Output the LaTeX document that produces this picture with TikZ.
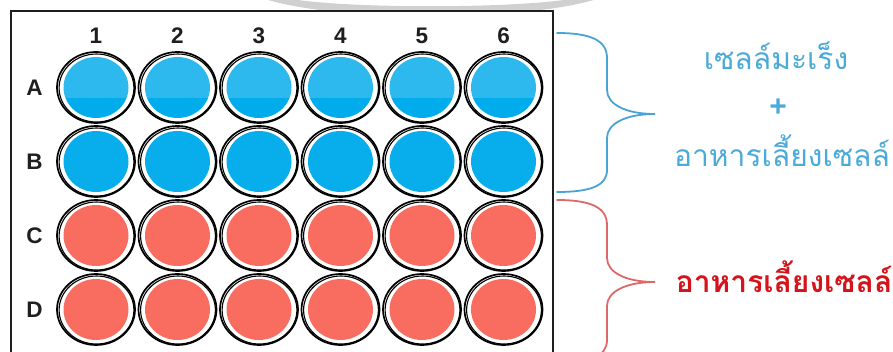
\documentclass[tikz,border=0pt]{standalone}
\usepackage{fontspec}
\setmainfont{Liberation Sans}
\newfontfamily\thaifont[Script=Thai]{Loma}
\definecolor{plateline}{RGB}{30,30,30}
\definecolor{bluetop}{RGB}{45,184,238}
\definecolor{bluelow}{RGB}{0,172,236}
\definecolor{bluewell}{RGB}{8,174,236}
\definecolor{redwell}{RGB}{249,108,96}
\definecolor{bracecyan}{RGB}{72,164,212}
\definecolor{bracered}{RGB}{222,104,104}
\definecolor{thaiblue}{RGB}{74,170,216}
\definecolor{thaired}{RGB}{212,20,26}
\definecolor{rimgray}{RGB}{208,208,208}
\tikzset{
  rimouter/.style={draw=black,line width=1.7pt},
  riminner/.style={draw=black,line width=1.1pt},
  idx/.style={font=\bfseries\fontsize{22.5}{22.5}\selectfont,text=black!88,inner sep=0pt},
  brace/.style={line width=1.8pt,line cap=round},
  thaitext/.style={font=\thaifont\fontsize{30}{36}\selectfont,inner sep=0pt,anchor=base}
}
\begin{document}
\begin{tikzpicture}[x=1pt,y=-1pt]
\useasboundingbox (0,0) rectangle (893,352);
\fill[white] (0,0) rectangle (893,352);
% grey rim of the lid, seen behind the plate
\fill[rimgray] (262,-2) .. controls (330,22) and (530,22) .. (600,-2)
  -- (576,-2) .. controls (520,9) and (340,9) .. (286,-2) -- cycle;
% plate body
\draw[plateline,line width=1.8pt,fill=white] (11,11) rectangle (553,372);
% column and row labels
\foreach \c in {1,...,6}{
  \node[idx] (col\c) at ({96+81.5*(\c-1)},35.5) {\c};
}
\foreach \r [count=\i from 0] in {A,B,C,D}{
  \node[idx] (row\r) at (34.5,{87.5+74*\i}) {\r};
}
% wells
\foreach \c in {1,...,6}{
  \foreach \r [count=\i from 0] in {A,B,C,D}{
    \coordinate (w\r\c) at ({96+81.5*(\c-1)},{87.5+74*\i});
    \draw[rimouter] (w\r\c) ellipse [x radius=39,y radius=35.5];
    \draw[riminner] ([shift={(0.5,0.5)}]w\r\c) ellipse [x radius=37.4,y radius=34];
  }
  % row A: two-tone liquid
  \begin{scope}
    \clip (wA\c) ellipse [x radius=32.5,y radius=30.5];
    \fill[bluetop] ([shift={(-40,-40)}]wA\c) rectangle ([shift={(40,10.5)}]wA\c);
    \fill[bluelow] ([shift={(-40,10.5)}]wA\c) rectangle ([shift={(40,40)}]wA\c);
  \end{scope}
  \fill[bluewell] (wB\c) ellipse [x radius=32.5,y radius=30.5];
  \fill[redwell] (wC\c) ellipse [x radius=32.5,y radius=30.5];
  \fill[redwell] (wD\c) ellipse [x radius=32.5,y radius=30.5];
}
% braces
\coordinate (btop) at (557,33);
\coordinate (btip) at (655,114);
\coordinate (bbot) at (557,192);
\draw[brace,bracecyan] (btop) .. controls (590,33) and (607,40) .. (607,58)
  -- (607,90) .. controls (607,104) and (625,114) .. (btip)
  .. controls (625,114) and (607,124) .. (607,138)
  -- (607,170) .. controls (607,186) and (590,192) .. (bbot);
\coordinate (rtop) at (557,200);
\coordinate (rtip) at (655,282);
\coordinate (rbot) at (557,364);
\draw[brace,bracered] (rtop) .. controls (590,200) and (607,207) .. (607,225)
  -- (607,258) .. controls (607,272) and (625,282) .. (rtip)
  .. controls (625,282) and (607,292) .. (607,306)
  -- (607,340) .. controls (607,356) and (590,364) .. (rbot);
% labels
\node[thaitext,text=thaiblue] (cells) at (776,70) {เซลล์มะเร็ง};
\node[font=\bfseries\fontsize{30}{30}\selectfont,text=thaiblue,inner sep=0pt] (plus) at (778,108) {+};
\node[thaitext,text=thaiblue] (medium1) at (782,167) {อาหารเลี้ยงเซลล์};
\node[thaitext,text=thaired,font=\thaifont\bfseries\fontsize{30}{36}\selectfont] (medium2) at (784,292) {อาหารเลี้ยงเซลล์};
\end{tikzpicture}
\end{document}
